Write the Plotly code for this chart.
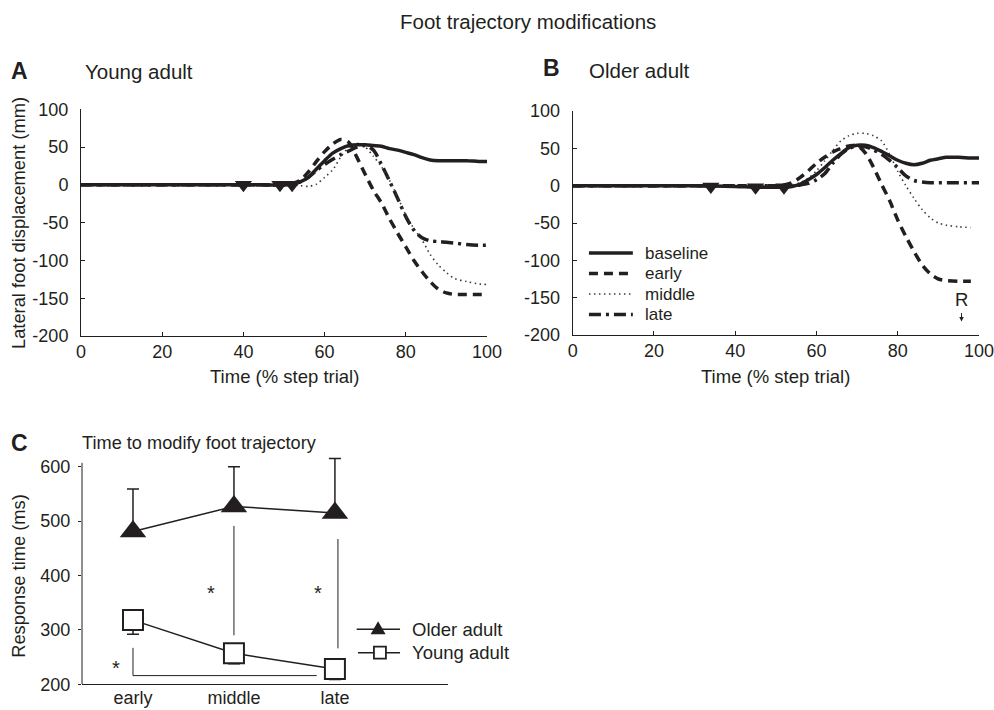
import plotly.graph_objects as go

# ---------------- data ----------------
time_pct = [0, 10, 20, 30, 40, 45, 50, 52, 54, 56, 58, 60, 62, 64, 66, 68, 70,
            72, 74, 76, 78, 80, 82, 84, 86, 88, 90, 92, 95, 98, 100]

# Panel A: young adult
young_baseline = [0, 0, 0, 0, 0, 0, 0, 1, 4, 10, 21, 32, 42, 48, 52, 53, 53,
                  52, 51, 48, 46, 43, 40, 36, 33, 32, 32, 32, 32, 31, 31]
young_early = [0, 0, 0, 0, 0, 0, 0, 2, 6, 17, 31, 44, 54, 60, 56, 36, 14,
               -7, -24, -45, -64, -82, -100, -115, -128, -138, -143, -145, -145, -145, -145]
young_middle = [0, 0, 0, 0, 0, 0, 0, 0, -1, -2, 1, 10, 20, 37, 50, 55, 50,
                38, 24, 6, -16, -40, -58, -73, -92, -106, -116, -124, -128, -131, -132]
young_late = [0, 0, 0, 0, 0, 0, 0, 1, 4, 10, 19, 27, 34, 40, 45, 50, 52,
              46, 27, 5, -18, -42, -60, -70, -74, -75, -76, -77, -79, -80, -80]

# Panel B: older adult
older_baseline = [0, 0, 0, 0, -1, -2, -2, -2, -1, 2, 8, 15, 24, 34, 43, 51, 54,
                  54, 51, 46, 40, 34, 30, 28, 30, 34, 36, 38, 38, 37, 37]
older_early = [0, 0, 0, 0, 0, 0, 0, 1, 4, 11, 20, 30, 38, 45, 50, 53, 54,
               44, 25, 2, -20, -46, -68, -88, -106, -118, -125, -127, -128, -128, None]
older_middle = [0, 0, 0, 0, 0, 0, 0, 0, 1, 4, 10, 20, 33, 47, 60, 67, 70,
                70, 67, 60, 42, 19, 0, -17, -32, -43, -50, -53, -55, -56, None]
older_late = [0, 0, 0, 0, 0, 0, 0, 0, 0, 1, 3, 8, 16, 30, 42, 50, 53,
              52, 48, 42, 34, 24, 13, 7, 5, 4, 4, 4, 4, 4, 4]

# onset markers (time of trajectory change)
young_onset_t = [40, 49, 52]
young_onset_y = [0, 0, 0]
older_onset_t = [34, 45, 52]
older_onset_y = [-1, -2, -2]

# Panel C: response time
conditions = ["early", "middle", "late"]
older_rt = [481, 527, 515]
older_rt_sd = [78, 73, 100]
young_rt = [318, 257, 228]
young_rt_sd = [26, 19, 19]

disp_ticks = [-200, -150, -100, -50, 0, 50, 100]
disp_ticktext = ["-200", "-150", "-100", "-50", "0", "50", "100"]
time_ticks = [0, 20, 40, 60, 80, 100]
rt_ticks = [200, 300, 400, 500, 600]

series_names = ["baseline", "early", "middle", "late"]

# ---------------- styles ----------------
INK = "#231f20"
FONT = "Liberation Sans, Arial, sans-serif"
styles = {
    "baseline": dict(color=INK, width=3.5, dash="solid"),
    "early": dict(color=INK, width=3.5, dash="9px,6px"),
    "middle": dict(color="#3a3a3a", width=1.6, dash="1.5px,3.5px"),
    "late": dict(color=INK, width=3.5, dash="12px,5px,3px,5px"),
}


def px(x):
    return x / 994.0


def py(y):
    return 1 - y / 710.0


fig = go.Figure()

panels = [
    ("x", "y", [young_baseline, young_early, young_middle, young_late], young_onset_t, young_onset_y),
    ("x2", "y2", [older_baseline, older_early, older_middle, older_late], older_onset_t, older_onset_y),
]
for xa, ya, series, ot, oy in panels:
    for name, vals in reversed(list(zip(series_names, series))):
        fig.add_trace(go.Scatter(
            x=time_pct, y=vals, mode="lines", name=name,
            line=dict(shape="spline", smoothing=0.8, **styles[name]),
            xaxis=xa, yaxis=ya, hoverinfo="skip", connectgaps=False))
    fig.add_trace(go.Scatter(
        x=ot, y=oy, mode="markers",
        marker=dict(symbol="triangle-down", size=15, color=INK),
        xaxis=xa, yaxis=ya, hoverinfo="skip"))

# Panel C
fig.add_trace(go.Scatter(
    x=conditions, y=older_rt, mode="lines+markers", name="Older adult",
    line=dict(color=INK, width=1.5),
    marker=dict(symbol="triangle-up", size=23, color=INK),
    error_y=dict(type="data", array=older_rt_sd, arrayminus=[0, 0, 0], symmetric=False,
                 color=INK, thickness=1.5, width=6),
    xaxis="x3", yaxis="y3", hoverinfo="skip"))
fig.add_trace(go.Scatter(
    x=conditions, y=young_rt, mode="lines+markers", name="Young adult",
    line=dict(color=INK, width=1.5),
    marker=dict(symbol="square", size=20, color="white", line=dict(color=INK, width=2)),
    error_y=dict(type="data", array=[0, 0, 0], arrayminus=young_rt_sd, symmetric=False,
                 color=INK, thickness=1.5, width=6),
    xaxis="x3", yaxis="y3", hoverinfo="skip"))

axis_common = dict(showline=True, linecolor=INK, linewidth=1, showgrid=False, zeroline=False,
                   automargin=False, ticklabeloverflow="allow",
                   tickfont=dict(size=18, family=FONT, color=INK), tickcolor=INK, tickwidth=1)

fig.update_layout(
    template="none",
    width=994, height=710, margin=dict(l=0, r=0, t=0, b=0, pad=0, autoexpand=False),
    paper_bgcolor="white", plot_bgcolor="white", showlegend=False,
    font=dict(family=FONT, color=INK, size=18),
    xaxis=dict(domain=[px(81), px(487)], range=[0, 100], tickvals=time_ticks, ticks="inside",
               ticklen=4, anchor="y", ticklabelstandoff=-1, **axis_common),
    yaxis=dict(domain=[py(336), py(109.3)], range=[-200, 100], tickvals=disp_ticks,
               ticktext=disp_ticktext, ticks="inside", ticklen=4, anchor="x",
               ticklabelstandoff=8, **axis_common),
    xaxis2=dict(domain=[px(572.7), px(979)], range=[0, 100], tickvals=time_ticks, ticks="inside",
                ticklen=4, anchor="y2", ticklabelstandoff=-1, **axis_common),
    yaxis2=dict(domain=[py(335), py(111)], range=[-200, 100], tickvals=disp_ticks,
                ticktext=disp_ticktext, ticks="inside", ticklen=4, anchor="x2",
                ticklabelstandoff=8, **axis_common),
    xaxis3=dict(domain=[px(82), px(448)], type="category", categoryorder="array",
                categoryarray=conditions, range=[-0.505, 3.12], ticks="", anchor="y3",
                ticklabelstandoff=-3, **axis_common),
    yaxis3=dict(domain=[py(684.3), py(455.8)], range=[200, 620], tickvals=rt_ticks,
                ticks="outside", ticklen=3, anchor="x3", ticklabelstandoff=4,
                **{**axis_common, "showline": False}),
)

shapes = []
# y axis line of panel C (stops just above the top tick)
shapes.append(dict(type="line", xref="x3 domain", yref="y3", x0=0, x1=0, y0=200, y1=607,
                   line=dict(color=INK, width=1)))
# significance lines in panel C
sig_line = dict(color=INK, width=1)
shapes.append(dict(type="line", xref="x3", yref="y3", x0=1.0, x1=1.0, y0=290, y1=491, line=sig_line))
shapes.append(dict(type="line", xref="x3", yref="y3", x0=2.03, x1=2.03, y0=266, y1=467, line=sig_line))
shapes.append(dict(type="line", xref="x3", yref="y3", x0=0, x1=0, y0=216, y1=267, line=sig_line))
shapes.append(dict(type="line", xref="x3", yref="y3", x0=0, x1=1.82, y0=216, y1=216, line=sig_line))

# legend of panel B
leg_y = [0.366, 0.274, 0.183, 0.092]
for name, yy in zip(series_names, leg_y):
    shapes.append(dict(type="line", xref="x2 domain", yref="y2 domain", x0=0.040, x1=0.148,
                       y0=yy, y1=yy, line=styles[name]))

# legend of panel C
shapes.append(dict(type="line", xref="x3 domain", yref="y3 domain", x0=0.7505, x1=0.869,
                   y0=0.2407, y1=0.2407, line=dict(color=INK, width=1.5)))
shapes.append(dict(type="path", xref="x3 domain", yref="y3 domain", xsizemode="pixel",
                   ysizemode="pixel", xanchor=0.809, yanchor=0.2407,
                   path="M-7.5,-5 L7.5,-5 L0,8 Z", fillcolor=INK, line=dict(color=INK, width=0)))
shapes.append(dict(type="line", xref="x3 domain", yref="y3 domain", x0=0.754, x1=0.869,
                   y0=0.1383, y1=0.1383, line=dict(color=INK, width=1.5)))
shapes.append(dict(type="rect", xref="x3 domain", yref="y3 domain", xsizemode="pixel",
                   ysizemode="pixel", xanchor=0.814, yanchor=0.1383, x0=-6, x1=6, y0=-6, y1=6,
                   fillcolor="white", line=dict(color=INK, width=1.8)))
fig.update_layout(shapes=shapes)

ann = []


def txt(x, y, text, size=18, bold=False, xanchor="left", angle=0, xref="paper", yref="paper", yshift=0):
    t = f"<b>{text}</b>" if bold else text
    ann.append(dict(x=x, y=y, xref=xref, yref=yref, text=t, showarrow=False, xanchor=xanchor,
                    yanchor="middle", textangle=angle, yshift=yshift,
                    font=dict(size=size, family=FONT, color=INK)))


txt(px(398), py(22), "Foot trajectory modifications", size=20.5)
txt(px(9), py(71), "A", size=23, bold=True)
txt(px(83), py(72), "Young adult", size=20.5)
txt(px(540.5), py(68.5), "B", size=23, bold=True)
txt(px(587), py(70.5), "Older adult", size=20.5)
txt(px(9), py(443.5), "C", size=23, bold=True)
txt(px(80), py(443), "Time to modify foot trajectory", size=18.2)
txt(px(18.5), py(223.5), "Lateral foot displacement (mm)", size=18.3, xanchor="center", angle=-90)
txt(px(18.3), py(575.5), "Response time (ms)", size=18.3, xanchor="center", angle=-90)
txt(px(284), py(376.7), "Time (% step trial)", size=18.5, xanchor="center")
txt(px(775.9), py(376.7), "Time (% step trial)", size=18.5, xanchor="center")

# legend B labels
for name, yy in zip(series_names, leg_y):
    txt(0.173, yy, name, size=17, xref="x2 domain", yref="y2 domain")
# legend C labels
txt(0.896, 0.2407, "Older adult", size=18.5, xref="x3 domain", yref="y3 domain")
txt(0.896, 0.1383, "Young adult", size=18.5, xref="x3 domain", yref="y3 domain")

# significance asterisks
txt(0.77, 377, "*", size=20, xanchor="center", xref="x3", yref="y3", yshift=-5)
txt(1.83, 377, "*", size=20, xanchor="center", xref="x3", yref="y3", yshift=-5)
txt(-0.165, 239, "*", size=20, xanchor="center", xref="x3", yref="y3", yshift=-5)

# response marker R in panel B
txt(95.7, -153, "R", size=18.5, xanchor="center", xref="x2", yref="y2")
ann.append(dict(x=95.7, y=-182, xref="x2", yref="y2", ax=0, ay=-10, showarrow=True,
                arrowhead=2, arrowsize=0.9, arrowwidth=1, arrowcolor=INK, text=""))

fig.update_layout(annotations=ann)
fig.write_html("out.html")
